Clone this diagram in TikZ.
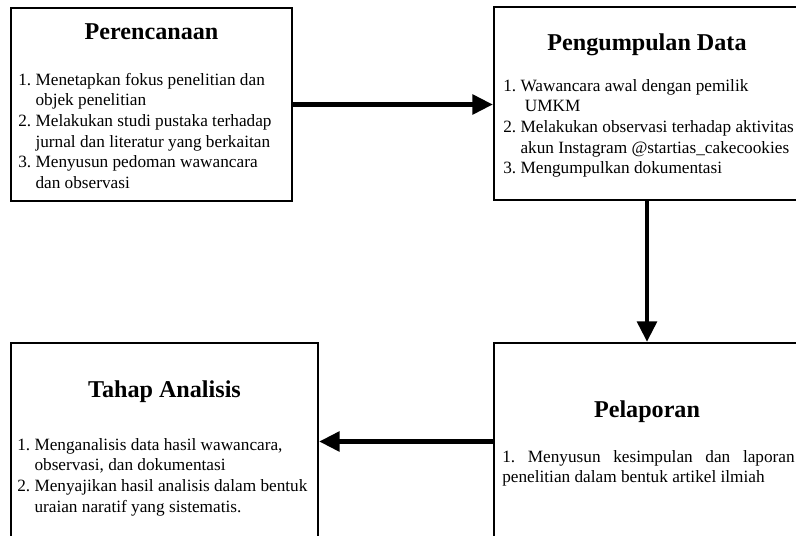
\documentclass[tikz,border=0pt]{standalone}
\usepackage{fontspec}
\setmainfont{Liberation Serif}
\usetikzlibrary{fit, arrows.meta}
\tikzset{
  tahap/.style={
    rectangle, draw=black, line width=1.5pt, inner sep=0pt
  },
  judul/.style={
    anchor=base, inner sep=0pt, font=\fontsize{17.5}{20}\selectfont\bfseries
  },
  isi/.style={
    anchor=base west, inner sep=0pt, font=\fontsize{12.5}{15}\selectfont
  },
  panah/.style={
    -{Triangle[length=15pt,width=14pt]}, line width=3.6pt, color=black
  }
}
\begin{document}
\begin{tikzpicture}[x=0.725pt, y=-0.725pt]
    \clip (0,0) rectangle (796,535);

    % Stage blocks
    \node[tahap, fit={(11,8) (292,201)}] (rencana) {};
    \node[tahap, fit={(494,7) (800,200)}] (kumpul) {};
    \node[tahap, fit={(494,343) (800,540)}] (lapor) {};
    \node[tahap, fit={(11,343) (318,540)}] (analisis) {};

    % Titles
    \node[judul] (rencanaJudul) at (151.5,39) {Perencanaan};
    \node[judul] (kumpulJudul) at (647,50) {Pengumpulan Data};
    \node[judul] (laporJudul) at (647,417) {Pelaporan};
    \node[judul] (analisisJudul) at (164.5,397) {Tahap Analisis};

    % Lists
    \node[isi] (rencanaIsi) at (18,85) {\begin{tabular}[t]{@{}l@{\ }l@{}}
      1. & Menetapkan fokus penelitian dan\\
         & objek penelitian\\
      2. & Melakukan studi pustaka terhadap\\
         & jurnal dan literatur yang berkaitan\\
      3. & Menyusun pedoman wawancara\\
         & dan observasi
    \end{tabular}};

    \node[isi] (kumpulIsi) at (503,91) {\begin{tabular}[t]{@{}l@{\ }l@{}}
      1. & Wawancara awal dengan pemilik\\
         & \ UMKM\\
      2. & Melakukan observasi terhadap aktivitas\\
         & akun Instagram @startias\_cakecookies\\
      3. & Mengumpulkan dokumentasi
    \end{tabular}};

    \node[isi] (laporIsi) at (502,462) {\frenchspacing\begin{tabular}[t]{@{}l@{}}
      \makebox[212pt][s]{1. Menyusun kesimpulan dan laporan}\\
      penelitian dalam bentuk artikel ilmiah
    \end{tabular}};

    \node[isi] (analisisIsi) at (17,450) {\begin{tabular}[t]{@{}l@{\ }l@{}}
      1. & Menganalisis data hasil wawancara,\\
         & observasi, dan dokumentasi\\
      2. & Menyajikan hasil analisis dalam bentuk\\
         & uraian naratif yang sistematis.
    \end{tabular}};

    % Flow
    \draw[panah] (rencana.east) -- (kumpul.west |- rencana.east);
    \draw[panah] (kumpul.south) -- (lapor.north);
    \draw[panah] (lapor.west) -- (analisis.east |- lapor.west);
\end{tikzpicture}
\end{document}
